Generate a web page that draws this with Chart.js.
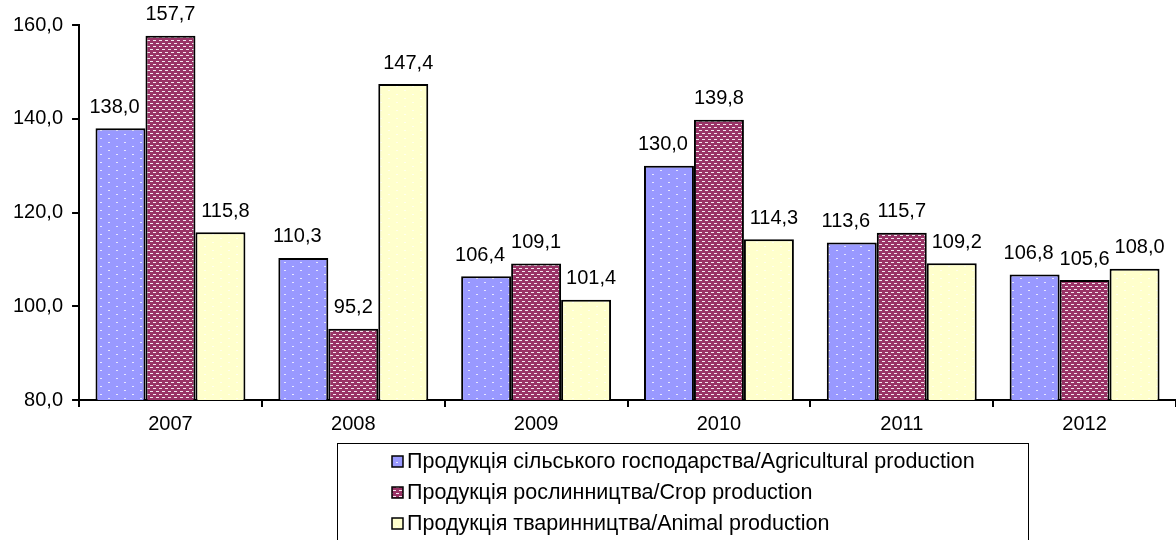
<!DOCTYPE html>
<html>
<head>
<meta charset="utf-8">
<script src="https://cdn.jsdelivr.net/npm/chart.js@4"></script>
<style>
  html, body { margin: 0; padding: 0; background: #fff; }
  canvas { display: block; }
</style>
</head>
<body>
<canvas id="bar-chart" width="1176" height="540"></canvas>
<script>
// data
const years = ["2007", "2008", "2009", "2010", "2011", "2012"];
const agricultural = [138.0, 110.3, 106.4, 130.0, 113.6, 106.8];
const crop = [157.7, 95.2, 109.1, 139.8, 115.7, 105.6];
const animal = [115.8, 147.4, 101.4, 114.3, 109.2, 108.0];
const seriesNames = [
  "Продукція сільського господарства/Agricultural production",
  "Продукція рослинництва/Crop production",
  "Продукція тваринництва/Animal production",
];
const yTicks = [80, 100, 120, 140, 160];

const FONT = '"Liberation Sans", Arial, sans-serif';
const fmt = v => v.toFixed(1).replace(".", ",");

// patterns
function makePattern(w, h, bg, draw) {
  const c = document.createElement("canvas");
  c.width = w; c.height = h;
  const g = c.getContext("2d");
  g.fillStyle = bg;
  g.fillRect(0, 0, w, h);
  draw(g);
  return document.getElementById("bar-chart").getContext("2d").createPattern(c, "repeat");
}

const bluePattern = makePattern(16, 8, "#9999ff", g => {
  g.fillStyle = "#e6e6ff";
  g.fillRect(4, 2, 2, 1);
  g.fillRect(12, 6, 2, 1);
});
const maroonPattern = makePattern(6, 6, "#993366", g => {
  g.fillStyle = "#f4e6ee";
  g.fillRect(0, 1, 3, 1);
  g.fillRect(3, 4, 3, 1);
});
const yellowPattern = makePattern(16, 8, "#ffffcc", g => {
  g.fillStyle = "#ffffee";
  g.fillRect(4, 2, 2, 1);
  g.fillRect(12, 6, 2, 1);
});
const fills = [bluePattern, maroonPattern, yellowPattern];

// value labels over the bars
const labelShift = [-6, 0, 5];
const valueLabels = {
  id: "valueLabels",
  afterDatasetsDraw(chart) {
    const ctx = chart.ctx;
    ctx.save();
    ctx.font = "20px " + FONT;
    ctx.fillStyle = "#000";
    ctx.textAlign = "center";
    ctx.textBaseline = "middle";
    chart.data.datasets.forEach((ds, i) => {
      chart.getDatasetMeta(i).data.forEach((bar, j) => {
        ctx.fillText(fmt(ds.data[j]), bar.x + labelShift[i], bar.y - 21);
      });
    });
    ctx.restore();
  },
};

// boxed legend at the bottom
const boxLegend = {
  id: "boxLegend",
  afterDraw(chart) {
    const ctx = chart.ctx;
    const left = 337, top = 443, right = 1028;
    ctx.save();
    ctx.strokeStyle = "#000";
    ctx.lineWidth = 1;
    ctx.strokeRect(left + 0.5, top + 0.5, right - left, 120);
    ctx.font = "21.5px " + FONT;
    ctx.textBaseline = "middle";
    chart.data.datasets.forEach((ds, i) => {
      const cy = 461 + i * 31;
      ctx.fillStyle = fills[i];
      ctx.fillRect(392, cy - 5, 11, 11);
      ctx.lineWidth = 1.5;
      ctx.strokeRect(392, cy - 5, 11, 11);
      ctx.fillStyle = "#000";
      ctx.fillText(ds.label, 407, cy + 1);
    });
    ctx.restore();
  },
};

const contenedorBarChart = document.querySelector("#bar-chart").getContext("2d");

const barChart = new Chart(contenedorBarChart, {
  type: "bar",
  data: {
    labels: years,
    datasets: [agricultural, crop, animal].map((vals, i) => ({
      label: seriesNames[i],
      data: vals,
      backgroundColor: fills[i],
      borderColor: "#000",
      borderWidth: 2,
      borderSkipped: false,
      categoryPercentage: 0.82,
      barPercentage: 1.0,
    })),
  },
  options: {
    responsive: false,
    animation: false,
    layout: { padding: { top: 25, right: 0, bottom: 99, left: 4 } },
    plugins: {
      legend: { display: false },
      tooltip: { enabled: false },
    },
    scales: {
      x: {
        grid: {
          drawOnChartArea: false,
          drawTicks: true,
          tickLength: 7,
          color: "#000",
          lineWidth: 2,
        },
        border: { color: "#000", width: 2 },
        ticks: { color: "#000", font: { family: FONT, size: 20 }, padding: 5 },
      },
      y: {
        min: 80,
        max: 160,
        afterBuildTicks: axis => { axis.ticks = yTicks.map(v => ({ value: v })); },
        grid: {
          drawOnChartArea: false,
          drawTicks: true,
          tickLength: 7,
          color: "#000",
          lineWidth: 2,
        },
        border: { color: "#000", width: 2 },
        ticks: {
          color: "#000",
          font: { family: FONT, size: 20 },
          padding: 9,
          callback: v => fmt(v),
        },
      },
    },
  },
  plugins: [valueLabels, boxLegend],
});
</script>
</body>
</html>
